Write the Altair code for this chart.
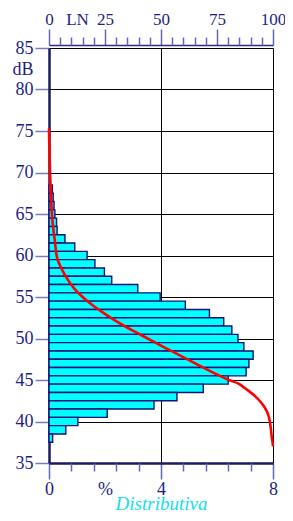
import altair as alt
import pandas as pd

# Histogram: sound level (dB, bin centre) and share of time (%)
db_levels = [68, 67, 66, 65, 64, 63, 62, 61, 60, 59, 58, 57, 56, 55, 54, 53,
             52, 51, 50, 49, 48, 47, 46, 45, 44, 43, 42, 41, 40, 39, 38]
pct = [0.12, 0.15, 0.18, 0.21, 0.27, 0.29, 0.57, 0.92, 1.36, 1.64, 1.98, 2.24,
       3.17, 3.97, 4.87, 5.73, 6.24, 6.53, 6.75, 6.96, 7.29, 7.14, 7.04, 6.40,
       5.51, 4.57, 3.75, 2.08, 1.03, 0.60, 0.13]

# Cumulative (LN) curve: level (dB) and LN (%)
curve_db = [75.3, 73, 71, 69, 67, 65, 63, 62, 61, 60, 59, 58, 57, 56, 55, 54,
            53, 52, 51, 50, 49, 48, 47, 46, 45, 44.5, 44, 43.5, 43, 42.5, 42,
            41.5, 41, 40, 39, 38, 37.5, 37]
curve_ln = [0, 0.15, 0.35, 0.6, 0.9, 1.3, 2.0, 2.5, 2.9, 3.4, 4.6, 6.4, 8.6,
            11.3, 15.0, 19.5, 24.8, 30.5, 37.0, 44.0, 51.0, 58.2, 65.3, 72.4,
            80.3, 85.0, 87.5, 90.0, 92.2, 94.0, 95.5, 96.7, 97.6, 98.6, 99.1,
            99.5, 99.8, 100]

y_ticks = [35, 40, 45, 50, 55, 60, 65, 70, 75, 80, 85]
pct_major = [0, 4, 8]
pct_minor = [0.8, 1.6, 2.4, 3.2, 4.8, 5.6, 6.4, 7.2]
ln_major = [0, 25, 50, 75, 100]
ln_minor = [5, 10, 15, 20, 30, 35, 40, 45, 55, 60, 65, 70, 80, 85, 90, 95]

NAVY = "#1e1e82"
TICK = "#6464b8"
FONT = "Liberation Serif"
FS = 18

bars_df = pd.DataFrame({"dB": db_levels, "pct": pct})
curve_df = pd.DataFrame({"dB": curve_db, "LN": curve_ln})

yscale = alt.Scale(domain=[35, 85], nice=False, zero=False)
pscale = alt.Scale(domain=[0, 8], nice=False)
lscale = alt.Scale(domain=[0, 100], nice=False)

bars = alt.Chart(bars_df).transform_calculate(
    lo="datum.dB - 0.5", hi="datum.dB + 0.5", x0="0"
).mark_rect(fill="#00ffff", stroke="#10107a", strokeWidth=1.4).encode(
    x=alt.X("x0:Q", scale=pscale, axis=alt.Axis(
        orient="bottom", values=pct_major, tickSize=16, labelPadding=1,
        grid=True, gridColor="#000000", gridWidth=1,
        domainColor="#1a1a60", domainWidth=2.5,
        labelFont=FONT, labelFontSize=FS, labelColor=NAVY,
        tickColor=TICK, tickWidth=1.5, labelFlush=False,
        title="Distributiva", titleFont=FONT, titleFontSize=19,
        titleFontStyle="italic", titleFontWeight="normal",
        titleColor="#10e0f0", titleBaseline="alphabetic", titleY=46)),
    x2="pct:Q",
    y=alt.Y("lo:Q", scale=yscale, axis=alt.Axis(
        orient="left", values=y_ticks, tickSize=14, labelPadding=2,
        grid=True, gridColor="#000000", gridWidth=1,
        domainColor="#1a1a60", domainWidth=2.5, title=None,
        tickColor="#7878c4", tickWidth=1.5, labelFlush=False,
        labelFont=FONT, labelFontSize=FS, labelColor=NAVY)),
    y2="hi:Q",
)

minor_bottom = alt.Chart(pd.DataFrame({"v": pct_minor})).mark_point(opacity=0).encode(
    x=alt.X("v:Q", scale=pscale, axis=alt.Axis(
        orient="bottom", values=pct_minor, tickSize=8, labels=False,
        domain=False, grid=False, title=None, tickColor=TICK, tickWidth=1.5)),
)

pct_label = alt.Chart(pd.DataFrame({"v": [2]})).mark_point(opacity=0).encode(
    x=alt.X("v:Q", scale=pscale, axis=alt.Axis(
        orient="bottom", values=[2], tickSize=16, tickOpacity=0,
        labelPadding=1, labelExpr="'%'", domain=False, grid=False,
        title=None, labelFont=FONT, labelFontSize=FS, labelColor=NAVY,
        labelFlush=False)),
)

curve = alt.Chart(curve_df).mark_line(
    color="#ff0000", strokeWidth=2.6, interpolate="monotone"
).encode(
    x=alt.X("LN:Q", scale=lscale, axis=alt.Axis(
        orient="top", values=ln_major, tickSize=16, offset=3, labelPadding=1,
        grid=False, domainColor="#2a2a8a", domainWidth=1.6, title=None,
        labelFont=FONT, labelFontSize=17, labelColor=NAVY,
        tickColor=TICK, tickWidth=1.5, labelFlush=False)),
    y=alt.Y("dB:Q", scale=yscale, axis=None),
    order="LN:Q",
)

minor_top = alt.Chart(pd.DataFrame({"v": ln_minor})).mark_point(opacity=0).encode(
    x=alt.X("v:Q", scale=lscale, axis=alt.Axis(
        orient="top", values=ln_minor, tickSize=8, offset=3, labels=False,
        domain=False, grid=False, title=None, tickColor=TICK, tickWidth=1.5)),
)

ln_label = alt.Chart(pd.DataFrame({"v": [12.5]})).mark_point(opacity=0).encode(
    x=alt.X("v:Q", scale=lscale, axis=alt.Axis(
        orient="top", values=[12.5], tickSize=16, offset=3, tickOpacity=0,
        labelPadding=1, labelExpr="'LN'", domain=False, grid=False,
        title=None, labelFont=FONT, labelFontSize=17, labelColor=NAVY,
        labelFlush=False)),
)

db_label = alt.Chart(pd.DataFrame({"v": [82.4]})).mark_point(opacity=0).encode(
    y=alt.Y("v:Q", scale=yscale, axis=alt.Axis(
        orient="left", values=[82.4], tickSize=14, tickOpacity=0,
        labelPadding=2, labelExpr="'dB'", domain=False, grid=False,
        title=None, labelFont=FONT, labelFontSize=FS, labelColor=NAVY,
        labelFlush=False)),
)

chart = alt.layer(
    bars, minor_bottom, pct_label, curve, minor_top, ln_label, db_label
).resolve_scale(
    x="independent"
).resolve_axis(
    x="independent", y="independent"
).properties(
    width=224, height=415,
    autosize=alt.AutoSizeParams(type="none"),
    padding={"left": 41, "top": 40, "right": 12, "bottom": 50},
).configure_view(
    stroke="#000000", strokeWidth=1.5
).configure(background="#ffffff")

chart.save("out.html", embed_options={"renderer": "svg", "actions": False})
